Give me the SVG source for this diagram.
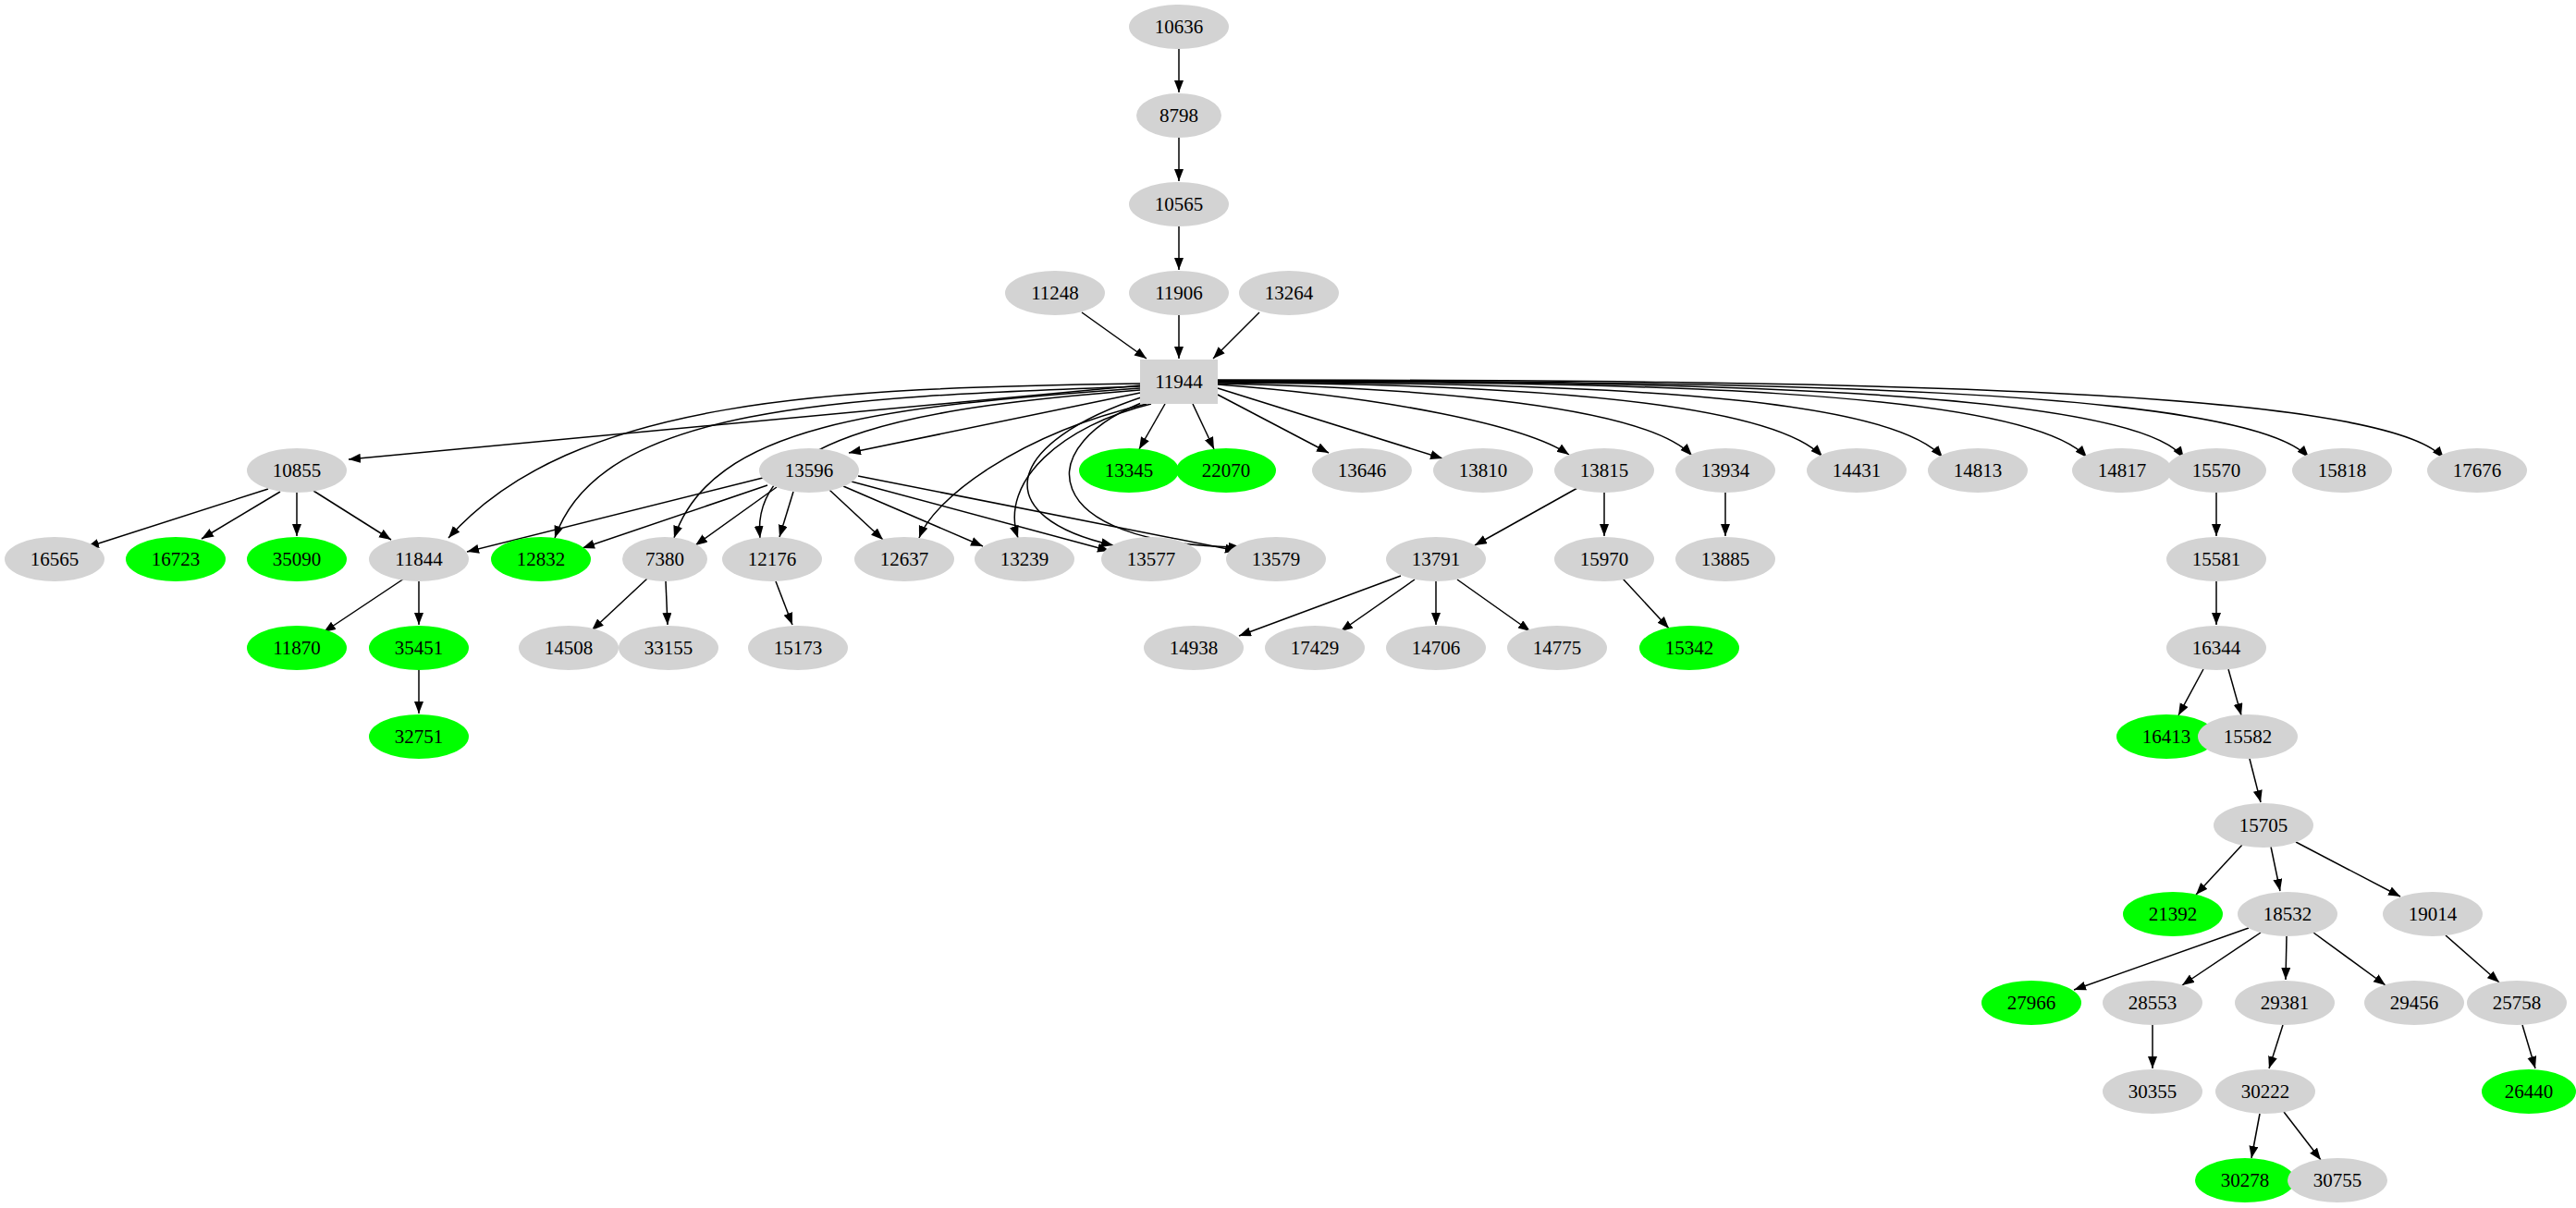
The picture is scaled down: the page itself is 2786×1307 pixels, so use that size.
<svg xmlns="http://www.w3.org/2000/svg" width="2786" height="1307" viewBox="0 0 2786 1307">
<style>
ellipse{fill:#d3d3d3}
ellipse.gr{fill:#00ff00}
text{font-family:"Liberation Serif","DejaVu Serif",serif;font-size:21px;text-anchor:middle;dominant-baseline:central;fill:#000}
#edges path{fill:none;stroke:#000;stroke-width:1.5;marker-end:url(#a)}
</style>
<defs><marker id="a" markerUnits="userSpaceOnUse" markerWidth="15" markerHeight="11" refX="13" refY="5" orient="auto"><path d="M0,0 L13,5 L0,10 z" fill="#000"/></marker></defs>
<rect width="2786" height="1307" fill="#fff"/>
<g id="edges">
<path d="M1275,53 L1275,100"/><path d="M1275,149 L1275,196"/><path d="M1275,245 L1275,292"/><path d="M1275,341 L1275,388"/>
<path d="M1170,338 L1240,388"/><path d="M1362,338 L1312,388"/>
<path d="M1233,417 L377,497"/>
<path d="M1233,415 C900,420 620,430 485,582"/>
<path d="M1233,418 C900,430 650,440 600,582"/>
<path d="M1233,420 C950,440 770,460 729,582"/>
<path d="M1233,422 C1000,440 810,470 822,582"/>
<path d="M1233,425 L918,490"/>
<path d="M1240,437 C1100,470 1010,540 994,582"/>
<path d="M1245,437 C1150,460 1080,520 1101,582"/>
<path d="M1240,428 C1080,480 1070,560 1204,590"/>
<path d="M1245,432 C1110,480 1120,590 1342,592"/>
<path d="M1260,437 L1232,486"/><path d="M1290,437 L1313,486"/>
<path d="M1317,427 L1437,490"/><path d="M1317,420 L1560,496"/>
<path d="M1317,416 C1500,430 1650,460 1697,492"/>
<path d="M1317,415 C1550,420 1780,440 1830,493"/>
<path d="M1317,414 C1600,415 1910,430 1971,494"/>
<path d="M1317,413 C1700,415 2040,425 2101,495"/>
<path d="M1317,413 C1750,413 2190,420 2257,495"/>
<path d="M1317,412 C1800,412 2310,420 2362,496"/>
<path d="M1317,412 C1900,412 2430,420 2497,495"/>
<path d="M1317,411 C2000,411 2580,420 2643,496"/>
<path d="M825,517 L505,597"/><path d="M830,525 L630,593"/><path d="M840,527 L752,590"/><path d="M858,532 L843,581"/>
<path d="M897,530 L955,584"/><path d="M912,526 L1063,591"/><path d="M921,521 L1200,596"/><path d="M928,515 L1338,596"/>
<path d="M290,529 L94,592"/><path d="M303,532 L218,583"/><path d="M321,533 L321,580"/><path d="M339,531 L423,584"/>
<path d="M437,626 L350,684"/><path d="M453,629 L453,676"/><path d="M453,725 L453,772"/>
<path d="M700,626 L640,682"/><path d="M720,629 L722,676"/><path d="M839,629 L857,676"/>
<path d="M1706,528 L1595,590"/><path d="M1735,533 L1735,580"/><path d="M1866,533 L1866,580"/>
<path d="M2397,533 L2397,580"/><path d="M2397,629 L2397,676"/>
<path d="M1515,623 L1340,688"/><path d="M1530,627 L1450,683"/><path d="M1553,629 L1553,676"/><path d="M1576,627 L1655,683"/>
<path d="M1755,626 L1805,680"/>
<path d="M2383,724 L2356,774"/><path d="M2410,724 L2424,774"/>
<path d="M2433,821 L2445,868"/>
<path d="M2425,914 L2375,968"/><path d="M2456,916 L2466,964"/><path d="M2483,911 L2596,970"/>
<path d="M2432,1004 L2243,1071"/><path d="M2445,1009 L2360,1066"/><path d="M2473,1013 L2472,1060"/><path d="M2502,1009 L2580,1066"/>
<path d="M2645,1012 L2703,1063"/><path d="M2728,1109 L2742,1156"/>
<path d="M2328,1109 L2328,1156"/><path d="M2469,1109 L2454,1156"/>
<path d="M2444,1205 L2435,1253"/><path d="M2470,1203 L2510,1255"/>
</g>
<g id="n11944"><rect x="1233" y="389" width="84" height="48" fill="#d3d3d3"/><text x="1275" y="413">11944</text></g>
<g id="n10636"><ellipse cx="1275" cy="29" rx="54" ry="24"/><text x="1275" y="29">10636</text></g>
<g id="n8798"><ellipse cx="1275" cy="125" rx="46" ry="24"/><text x="1275" y="125">8798</text></g>
<g id="n10565"><ellipse cx="1275" cy="221" rx="54" ry="24"/><text x="1275" y="221">10565</text></g>
<g id="n11248"><ellipse cx="1141" cy="317" rx="54" ry="24"/><text x="1141" y="317">11248</text></g>
<g id="n11906"><ellipse cx="1275" cy="317" rx="54" ry="24"/><text x="1275" y="317">11906</text></g>
<g id="n13264"><ellipse cx="1394" cy="317" rx="54" ry="24"/><text x="1394" y="317">13264</text></g>
<g id="n10855"><ellipse cx="321" cy="509" rx="54" ry="24"/><text x="321" y="509">10855</text></g>
<g id="n13596"><ellipse cx="875" cy="509" rx="54" ry="24"/><text x="875" y="509">13596</text></g>
<g id="n13345"><ellipse class="gr" cx="1221" cy="509" rx="54" ry="24"/><text x="1221" y="509">13345</text></g>
<g id="n22070"><ellipse class="gr" cx="1326" cy="509" rx="54" ry="24"/><text x="1326" y="509">22070</text></g>
<g id="n13646"><ellipse cx="1473" cy="509" rx="54" ry="24"/><text x="1473" y="509">13646</text></g>
<g id="n13810"><ellipse cx="1604" cy="509" rx="54" ry="24"/><text x="1604" y="509">13810</text></g>
<g id="n13815"><ellipse cx="1735" cy="509" rx="54" ry="24"/><text x="1735" y="509">13815</text></g>
<g id="n13934"><ellipse cx="1866" cy="509" rx="54" ry="24"/><text x="1866" y="509">13934</text></g>
<g id="n14431"><ellipse cx="2008" cy="509" rx="54" ry="24"/><text x="2008" y="509">14431</text></g>
<g id="n14813"><ellipse cx="2139" cy="509" rx="54" ry="24"/><text x="2139" y="509">14813</text></g>
<g id="n14817"><ellipse cx="2295" cy="509" rx="54" ry="24"/><text x="2295" y="509">14817</text></g>
<g id="n15570"><ellipse cx="2397" cy="509" rx="54" ry="24"/><text x="2397" y="509">15570</text></g>
<g id="n15818"><ellipse cx="2533" cy="509" rx="54" ry="24"/><text x="2533" y="509">15818</text></g>
<g id="n17676"><ellipse cx="2679" cy="509" rx="54" ry="24"/><text x="2679" y="509">17676</text></g>
<g id="n16565"><ellipse cx="59" cy="605" rx="54" ry="24"/><text x="59" y="605">16565</text></g>
<g id="n16723"><ellipse class="gr" cx="190" cy="605" rx="54" ry="24"/><text x="190" y="605">16723</text></g>
<g id="n35090"><ellipse class="gr" cx="321" cy="605" rx="54" ry="24"/><text x="321" y="605">35090</text></g>
<g id="n11844"><ellipse cx="453" cy="605" rx="54" ry="24"/><text x="453" y="605">11844</text></g>
<g id="n12832"><ellipse class="gr" cx="585" cy="605" rx="54" ry="24"/><text x="585" y="605">12832</text></g>
<g id="n7380"><ellipse cx="719" cy="605" rx="46" ry="24"/><text x="719" y="605">7380</text></g>
<g id="n12176"><ellipse cx="835" cy="605" rx="54" ry="24"/><text x="835" y="605">12176</text></g>
<g id="n12637"><ellipse cx="978" cy="605" rx="54" ry="24"/><text x="978" y="605">12637</text></g>
<g id="n13239"><ellipse cx="1108" cy="605" rx="54" ry="24"/><text x="1108" y="605">13239</text></g>
<g id="n13577"><ellipse cx="1245" cy="605" rx="54" ry="24"/><text x="1245" y="605">13577</text></g>
<g id="n13579"><ellipse cx="1380" cy="605" rx="54" ry="24"/><text x="1380" y="605">13579</text></g>
<g id="n13791"><ellipse cx="1553" cy="605" rx="54" ry="24"/><text x="1553" y="605">13791</text></g>
<g id="n15970"><ellipse cx="1735" cy="605" rx="54" ry="24"/><text x="1735" y="605">15970</text></g>
<g id="n13885"><ellipse cx="1866" cy="605" rx="54" ry="24"/><text x="1866" y="605">13885</text></g>
<g id="n15581"><ellipse cx="2397" cy="605" rx="54" ry="24"/><text x="2397" y="605">15581</text></g>
<g id="n11870"><ellipse class="gr" cx="321" cy="701" rx="54" ry="24"/><text x="321" y="701">11870</text></g>
<g id="n35451"><ellipse class="gr" cx="453" cy="701" rx="54" ry="24"/><text x="453" y="701">35451</text></g>
<g id="n14508"><ellipse cx="615" cy="701" rx="54" ry="24"/><text x="615" y="701">14508</text></g>
<g id="n33155"><ellipse cx="723" cy="701" rx="54" ry="24"/><text x="723" y="701">33155</text></g>
<g id="n15173"><ellipse cx="863" cy="701" rx="54" ry="24"/><text x="863" y="701">15173</text></g>
<g id="n14938"><ellipse cx="1291" cy="701" rx="54" ry="24"/><text x="1291" y="701">14938</text></g>
<g id="n17429"><ellipse cx="1422" cy="701" rx="54" ry="24"/><text x="1422" y="701">17429</text></g>
<g id="n14706"><ellipse cx="1553" cy="701" rx="54" ry="24"/><text x="1553" y="701">14706</text></g>
<g id="n14775"><ellipse cx="1684" cy="701" rx="54" ry="24"/><text x="1684" y="701">14775</text></g>
<g id="n15342"><ellipse class="gr" cx="1827" cy="701" rx="54" ry="24"/><text x="1827" y="701">15342</text></g>
<g id="n16344"><ellipse cx="2397" cy="701" rx="54" ry="24"/><text x="2397" y="701">16344</text></g>
<g id="n32751"><ellipse class="gr" cx="453" cy="797" rx="54" ry="24"/><text x="453" y="797">32751</text></g>
<g id="n16413"><ellipse class="gr" cx="2343" cy="797" rx="54" ry="24"/><text x="2343" y="797">16413</text></g>
<g id="n15582"><ellipse cx="2431" cy="797" rx="54" ry="24"/><text x="2431" y="797">15582</text></g>
<g id="n15705"><ellipse cx="2448" cy="893" rx="54" ry="24"/><text x="2448" y="893">15705</text></g>
<g id="n21392"><ellipse class="gr" cx="2350" cy="989" rx="54" ry="24"/><text x="2350" y="989">21392</text></g>
<g id="n18532"><ellipse cx="2474" cy="989" rx="54" ry="24"/><text x="2474" y="989">18532</text></g>
<g id="n19014"><ellipse cx="2631" cy="989" rx="54" ry="24"/><text x="2631" y="989">19014</text></g>
<g id="n27966"><ellipse class="gr" cx="2197" cy="1085" rx="54" ry="24"/><text x="2197" y="1085">27966</text></g>
<g id="n28553"><ellipse cx="2328" cy="1085" rx="54" ry="24"/><text x="2328" y="1085">28553</text></g>
<g id="n29381"><ellipse cx="2471" cy="1085" rx="54" ry="24"/><text x="2471" y="1085">29381</text></g>
<g id="n29456"><ellipse cx="2611" cy="1085" rx="54" ry="24"/><text x="2611" y="1085">29456</text></g>
<g id="n25758"><ellipse cx="2722" cy="1085" rx="54" ry="24"/><text x="2722" y="1085">25758</text></g>
<g id="n30355"><ellipse cx="2328" cy="1181" rx="54" ry="24"/><text x="2328" y="1181">30355</text></g>
<g id="n30222"><ellipse cx="2450" cy="1181" rx="54" ry="24"/><text x="2450" y="1181">30222</text></g>
<g id="n26440"><ellipse class="gr" cx="2735" cy="1181" rx="51" ry="24"/><text x="2735" y="1181">26440</text></g>
<g id="n30278"><ellipse class="gr" cx="2428" cy="1277" rx="54" ry="24"/><text x="2428" y="1277">30278</text></g>
<g id="n30755"><ellipse cx="2528" cy="1277" rx="54" ry="24"/><text x="2528" y="1277">30755</text></g>
</svg>
